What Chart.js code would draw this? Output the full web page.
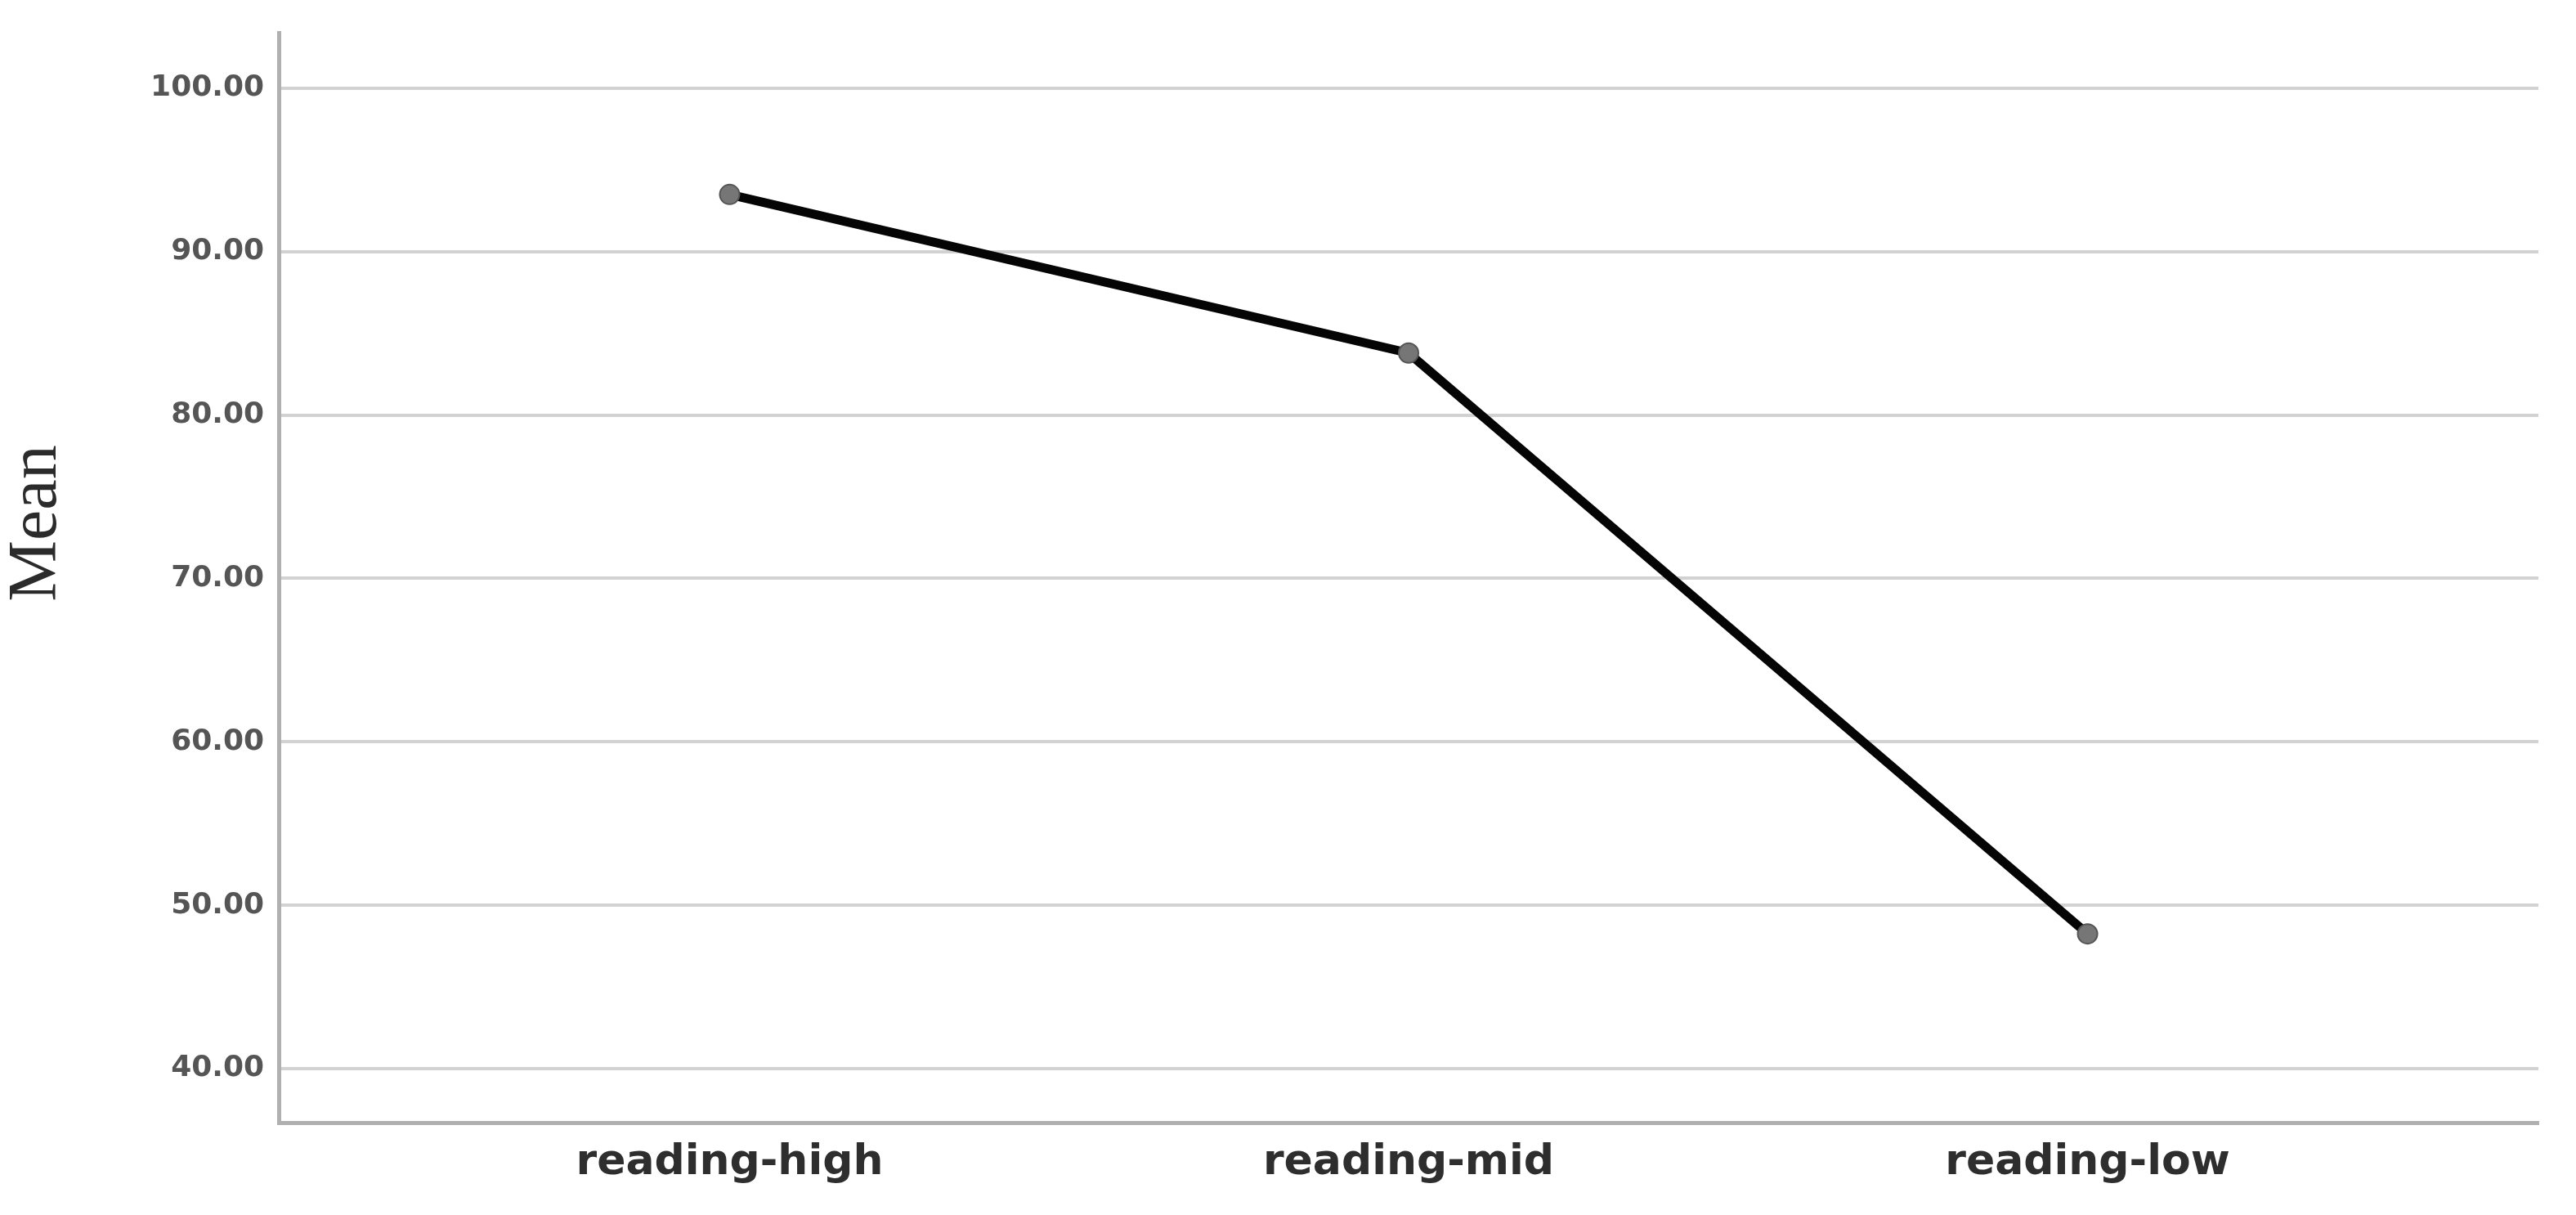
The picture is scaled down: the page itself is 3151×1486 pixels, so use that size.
<!DOCTYPE html>
<html>
<head>
<meta charset="utf-8">
<script src="https://cdn.jsdelivr.net/npm/chart.js@4/dist/chart.umd.min.js"></script>
<style>
  html, body { margin: 0; padding: 0; background: #ffffff; }
  #wrap { width: 3151px; height: 1486px; position: relative; }
</style>
</head>
<body>
<div id="wrap"><canvas id="c" width="3151" height="1486"></canvas></div>
<script>
const categories = ["reading-high", "reading-mid", "reading-low"];
const meanValues = [93.5, 83.8, 48.25];
const yTickValues = [40, 50, 60, 70, 80, 90, 100];
const yTitle = "Mean";

const points = meanValues.map((v, i) => ({ x: i, y: v }));

const titlePlugin = {
  id: 'yTitle',
  afterDraw(chart) {
    const ctx = chart.ctx;
    ctx.save();
    ctx.translate(46, 640);
    ctx.rotate(-Math.PI / 2);
    ctx.font = '84px "Liberation Serif", "Times New Roman", serif';
    ctx.fillStyle = '#2b2b2b';
    ctx.textAlign = 'center';
    ctx.textBaseline = 'middle';
    ctx.fillText(yTitle, 0, 0);
    ctx.restore();
  }
};

new Chart(document.getElementById('c'), {
  type: 'line',
  data: {
    datasets: [{
      data: points,
      borderColor: '#050505',
      borderWidth: 11,
      tension: 0,
      pointRadius: 12,
      pointBackgroundColor: '#767676',
      pointBorderColor: '#555555',
      pointBorderWidth: 2,
      fill: false
    }]
  },
  options: {
    responsive: false,
    animation: false,
    devicePixelRatio: 1,
    layout: { padding: { left: 0, right: 46, top: 40, bottom: 0 } },
    plugins: { legend: { display: false }, tooltip: { enabled: false } },
    scales: {
      x: {
        type: 'linear',
        min: -0.664,
        max: 2.664,
        afterBuildTicks(scale) { scale.ticks = categories.map((c, i) => ({ value: i })); },
        afterFit(scale) { scale.height = 113; },
        ticks: {
          callback: (v) => categories[v],
          color: '#2e2e2e',
          font: { family: '"DejaVu Sans", Verdana, sans-serif', size: 52, weight: 'bold' },
          padding: 18,
          maxRotation: 0,
          autoSkip: false
        },
        grid: { display: false, drawTicks: false },
        border: { display: true, color: '#b0b0b0', width: 5 }
      },
      y: {
        type: 'linear',
        min: 36.7,
        max: 103.4,
        afterBuildTicks(scale) { scale.ticks = yTickValues.map(v => ({ value: v })); },
        afterFit(scale) { scale.width = 341; },
        ticks: {
          callback: (v) => Number(v).toFixed(2),
          color: '#555555',
          font: { family: '"DejaVu Sans", Verdana, sans-serif', size: 36, weight: 'bold' },
          padding: 18
        },
        grid: { color: '#d2d2d2', lineWidth: 4, drawTicks: false },
        border: { display: true, color: '#b0b0b0', width: 5 }
      }
    }
  },
  plugins: [titlePlugin]
});
</script>
</body>
</html>
